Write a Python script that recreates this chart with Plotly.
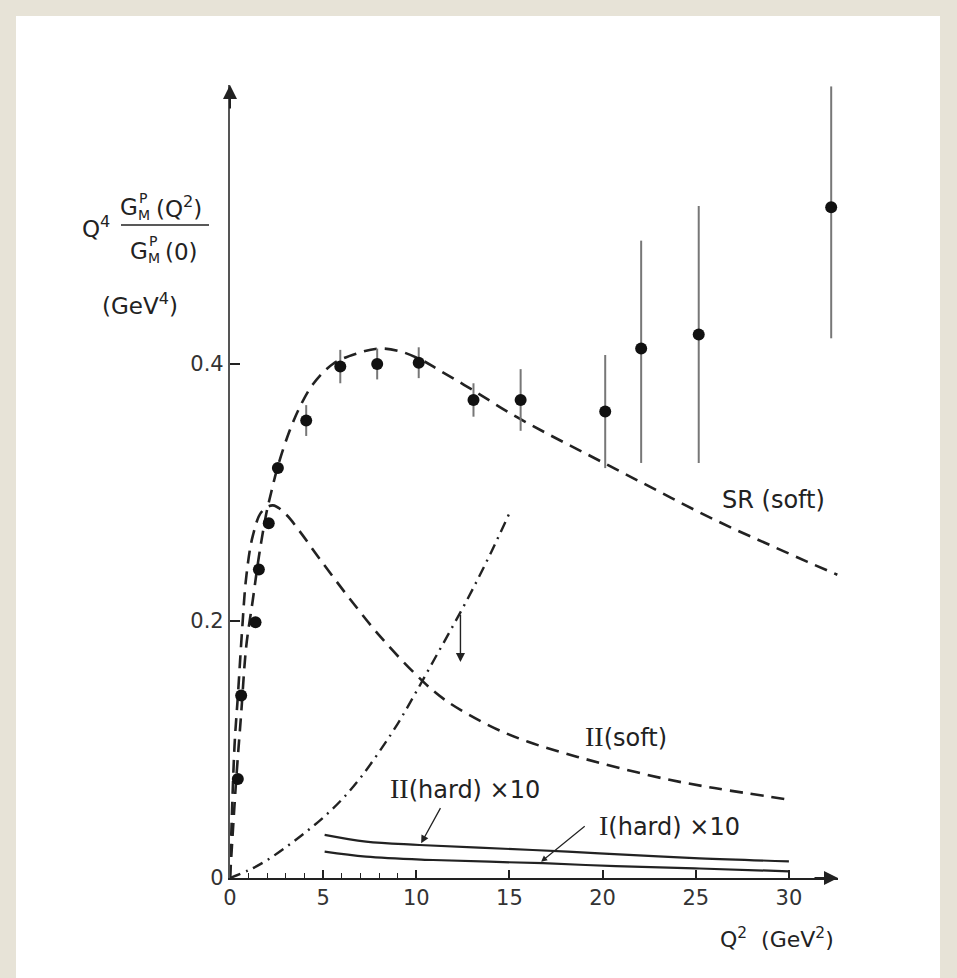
import plotly.graph_objects as go

# ---------------- data ----------------
data_q2 = [0.42, 0.6, 1.37, 1.55, 2.08, 2.57, 4.09, 5.92, 7.9, 10.13, 13.07, 15.6, 20.14, 22.07, 25.16, 32.27]
data_val = [0.077, 0.142, 0.199, 0.24, 0.276, 0.319, 0.356, 0.398, 0.40, 0.401, 0.372, 0.372, 0.363, 0.412, 0.423, 0.522]
err_up = [0, 0, 0, 0, 0, 0, 0.012, 0.013, 0.012, 0.012, 0.013, 0.024, 0.044, 0.084, 0.10, 0.094]
err_down = [0, 0, 0, 0, 0, 0, 0.012, 0.013, 0.012, 0.012, 0.013, 0.024, 0.044, 0.089, 0.10, 0.102]

sr_soft_x = [0, 0.33, 0.6, 0.87, 1.22, 1.55, 1.94, 2.21, 2.6, 3.2, 3.73, 4.44, 5.52, 6.77, 8.0, 9.1,
             10.3, 11.25, 13, 15, 17, 19, 21, 23, 25, 27, 29, 31, 32.6]
sr_soft_y = [0, 0.076, 0.128, 0.18, 0.216, 0.25, 0.283, 0.30, 0.322, 0.348, 0.366, 0.384, 0.40, 0.408, 0.412, 0.41,
             0.403, 0.395, 0.38, 0.362, 0.346, 0.331, 0.316, 0.301, 0.286, 0.272, 0.259, 0.246, 0.236]

ii_soft_x = [0, 0.24, 0.42, 0.65, 0.87, 1.22, 1.7, 2.3, 3.0, 3.73, 4.63, 5.5, 6.5, 8, 10, 11.5, 14, 16, 18, 20, 23.4, 26, 30]
ii_soft_y = [0, 0.102, 0.141, 0.193, 0.234, 0.266, 0.285, 0.29, 0.283, 0.270, 0.252, 0.235, 0.216, 0.189, 0.158,
             0.139, 0.118, 0.106, 0.097, 0.089, 0.077, 0.070, 0.061]

dashdot_x = [0, 1, 2, 3, 4, 5, 6, 7, 8, 9, 10, 11, 12, 13, 14, 15]
dashdot_y = [0, 0.006, 0.014, 0.024, 0.035, 0.047, 0.061, 0.078, 0.098, 0.12, 0.145, 0.171, 0.197, 0.224, 0.253, 0.284]

ii_hard_x = [5.08, 7.3, 10.17, 16.25, 19.83, 25.2, 30.0]
ii_hard_y = [0.0335, 0.0283, 0.0257, 0.0218, 0.0192, 0.0153, 0.013]
i_hard_x = [5.08, 7.3, 10.9, 16.8, 20.7, 25.2, 30.0]
i_hard_y = [0.0205, 0.0166, 0.014, 0.0115, 0.0092, 0.0074, 0.0052]

x_major_ticks = [0, 5, 10, 15, 20, 25, 30]
x_minor_ticks = [1, 2, 3, 4, 6, 7, 8, 9]
y_ticks = [0, 0.2, 0.4]
y_tick_text = ["0", "0.2", "0.4"]

# ---------------- layout geometry ----------------
W, H = 957, 978
ML, MR, MT, MB = 230, 119, 85, 100
PW, PH = W - ML - MR, H - MT - MB
X_MAX = PW / 18.63
Y_MAX = PH / 1285.0

def px(xp):
    return (xp - ML) / PW

def py(yp):
    return (H - MB - yp) / PH

INK = "#222222"
FONT = "DejaVu Sans"
ROMAN = "<span style='font-family:Liberation Serif;font-size:28px'>%s</span>"

fig = go.Figure()

fig.add_trace(go.Scatter(x=sr_soft_x, y=sr_soft_y, mode="lines", line_shape="spline",
                         line=dict(color=INK, width=2.6, dash="13px,8px", smoothing=1.0), hoverinfo="skip"))
fig.add_trace(go.Scatter(x=ii_soft_x, y=ii_soft_y, mode="lines", line_shape="spline",
                         line=dict(color=INK, width=2.6, dash="13px,8px", smoothing=1.0), hoverinfo="skip"))
fig.add_trace(go.Scatter(x=dashdot_x, y=dashdot_y, mode="lines", line_shape="spline",
                         line=dict(color=INK, width=2.4, dash="11px,6px,2px,6px", smoothing=1.0), hoverinfo="skip"))
fig.add_trace(go.Scatter(x=ii_hard_x, y=ii_hard_y, mode="lines", line_shape="spline",
                         line=dict(color=INK, width=2.2, smoothing=1.0), hoverinfo="skip"))
fig.add_trace(go.Scatter(x=i_hard_x, y=i_hard_y, mode="lines", line_shape="spline",
                         line=dict(color=INK, width=2.2, smoothing=1.0), hoverinfo="skip"))
fig.add_trace(go.Scatter(
    x=data_q2, y=data_val, mode="markers",
    marker=dict(color="#111111", size=12),
    error_y=dict(type="data", symmetric=False, array=err_up, arrayminus=err_down,
                 color="#777777", thickness=2, width=0),
    cliponaxis=False, hoverinfo="skip"))

annotations = []
# axis arrowheads
annotations.append(dict(x=X_MAX, y=0, xref="x", yref="y", ax=-25, ay=0, text="", showarrow=True,
                        arrowhead=2, arrowsize=1.4, arrowwidth=2, arrowcolor=INK))
annotations.append(dict(x=0, y=Y_MAX, xref="x", yref="y", ax=0, ay=25, text="", showarrow=True,
                        arrowhead=2, arrowsize=1.4, arrowwidth=2, arrowcolor=INK))

lab_font = dict(family=FONT, size=24, color=INK)
annotations += [
    dict(x=29.17, y=0.294, xref="x", yref="y", text="SR (soft)", showarrow=False, font=lab_font),
    dict(x=21.28, y=0.1105, xref="x", yref="y", text=(ROMAN % "II") + "(soft)", showarrow=False, font=lab_font),
    dict(x=12.64, y=0.070, xref="x", yref="y", text=(ROMAN % "II") + "(hard) \u00d710", showarrow=False, font=lab_font),
    dict(x=23.6, y=0.0405, xref="x", yref="y", text=(ROMAN % "I") + "(hard) \u00d710", showarrow=False, font=lab_font),
]
# pointers
annotations.append(dict(x=10.26, y=0.027, ax=11.34, ay=0.0555, xref="x", yref="y", axref="x", ayref="y",
                        text="", showarrow=True, arrowhead=2, arrowsize=1.2, arrowwidth=1.3, arrowcolor=INK))
annotations.append(dict(x=16.7, y=0.0127, ax=19.12, ay=0.0412, xref="x", yref="y", axref="x", ayref="y",
                        text="", showarrow=True, arrowhead=2, arrowsize=1.0, arrowwidth=1.2, arrowcolor=INK))
annotations.append(dict(x=12.37, y=0.168, ax=12.37, ay=0.206, xref="x", yref="y", axref="x", ayref="y",
                        text="", showarrow=True, arrowhead=2, arrowsize=1.3, arrowwidth=1.4, arrowcolor=INK))

# y axis title pieces
big = dict(family=FONT, size=23, color=INK)
small = dict(family=FONT, size=14, color=INK)
def txt(x, y, t, f):
    return dict(x=px(x), y=py(y), xref="paper", yref="paper", text=t, showarrow=False,
                xanchor="left", yanchor="middle", font=f)
annotations += [
    txt(80, 227, "Q<sup>4</sup>", big),
    txt(118, 207, "G", big),
    txt(137, 198, "P", small),
    txt(136, 215, "M", small),
    txt(154, 207, "(Q<sup>2</sup>)", big),
    txt(128, 251, "G", big),
    txt(147, 241, "P", small),
    txt(146, 258, "M", small),
    txt(163, 252, "(0)", big),
    txt(100, 304, "(GeV<sup>4</sup>)", big),
    txt(718, 938, "Q<sup>2</sup>  (GeV<sup>2</sup>)", dict(family=FONT, size=22, color=INK)),
]

shapes = [
    dict(type="rect", xref="paper", yref="paper", x0=px(16), x1=px(940), y0=py(990), y1=py(16),
         fillcolor="white", line=dict(width=0), layer="below"),
    dict(type="line", xref="paper", yref="paper", x0=px(121), x1=px(209), y0=py(225), y1=py(225),
         line=dict(color=INK, width=1.6)),
]

fig.update_layout(
    width=W, height=H,
    margin=dict(l=ML, r=MR, t=MT, b=MB),
    paper_bgcolor="#e7e3d7", plot_bgcolor="rgba(0,0,0,0)",
    showlegend=False,
    annotations=annotations, shapes=shapes,
    font=dict(family=FONT, color=INK),
    xaxis=dict(range=[0, X_MAX], showgrid=False, zeroline=False, showline=True, linecolor=INK, linewidth=2.2,
               tickmode="array", tickvals=x_major_ticks, ticktext=[str(v) for v in x_major_ticks],
               ticks="inside", ticklen=8, tickwidth=1.6, tickcolor=INK,
               tickfont=dict(family=FONT, size=21, color="#333333"),
               minor=dict(tickmode="array", tickvals=x_minor_ticks, ticks="inside", ticklen=5,
                          tickwidth=1.4, tickcolor=INK),
               fixedrange=True),
    yaxis=dict(range=[0, Y_MAX], showgrid=False, zeroline=False, showline=True, linecolor="#555555", linewidth=2.2,
               tickmode="array", tickvals=y_ticks, ticktext=y_tick_text,
               ticks="inside", ticklen=10, tickwidth=1.6, tickcolor=INK,
               tickfont=dict(family=FONT, size=21, color="#333333"),
               fixedrange=True),
)

fig.write_html("out.html")
